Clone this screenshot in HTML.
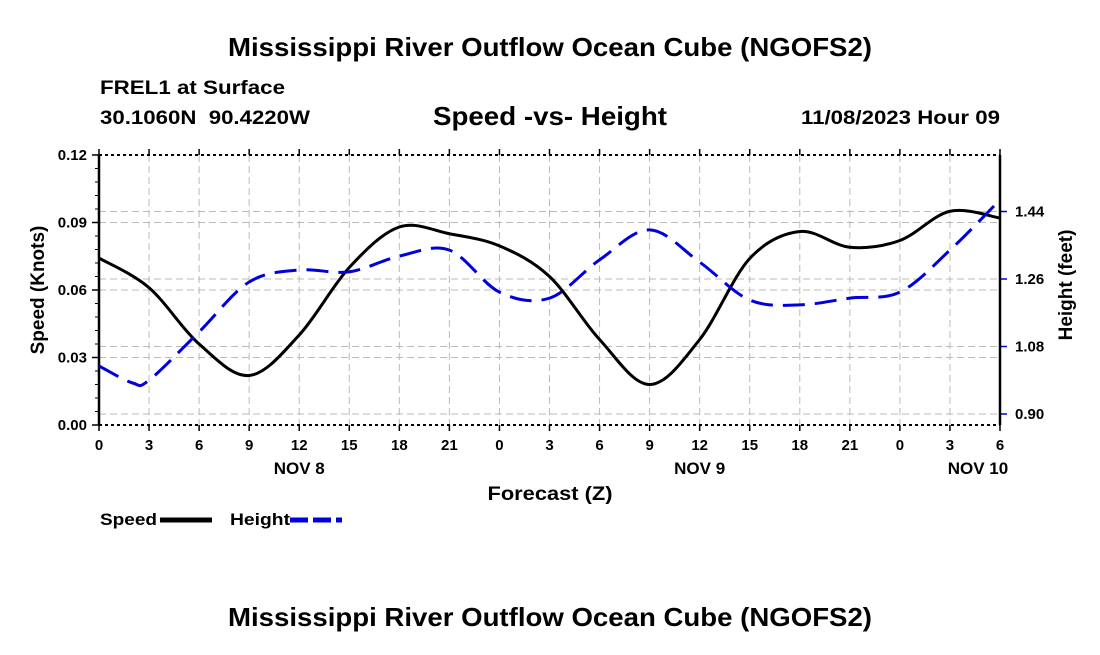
<!DOCTYPE html>
<html><head><meta charset="utf-8"><style>
body{margin:0;background:#fff;width:1100px;height:650px;overflow:hidden;font-family:"Liberation Sans",Arial,sans-serif}
svg text{font-family:"Liberation Sans",Arial,sans-serif;font-weight:bold;white-space:pre}
</style></head><body>
<svg id="chart" width="1100" height="650">
<text x="550" y="56" text-anchor="middle" font-size="26" textLength="644" lengthAdjust="spacingAndGlyphs">Mississippi River Outflow Ocean Cube (NGOFS2)</text>
<text x="100" y="94" font-size="19" textLength="185" lengthAdjust="spacingAndGlyphs">FREL1 at Surface</text>
<text x="100" y="124" font-size="19" textLength="210" lengthAdjust="spacingAndGlyphs">30.1060N  90.4220W</text>
<text x="550" y="125" text-anchor="middle" font-size="26" textLength="234" lengthAdjust="spacingAndGlyphs">Speed -vs- Height</text>
<text x="1000" y="124" text-anchor="end" font-size="19" textLength="199" lengthAdjust="spacingAndGlyphs">11/08/2023 Hour 09</text>
<g id="grid"></g><g id="axes"></g><g id="series"></g>
<text x="550" y="500" text-anchor="middle" font-size="19" textLength="125" lengthAdjust="spacingAndGlyphs">Forecast (Z)</text>
<text transform="translate(44,290) rotate(-90)" text-anchor="middle" font-size="19">Speed (Knots)</text>
<text transform="translate(1072,285) rotate(-90)" text-anchor="middle" font-size="19">Height (feet)</text>
<g><text x="100" y="525" font-size="17" textLength="57" lengthAdjust="spacingAndGlyphs">Speed</text><line x1="160" y1="520" x2="212" y2="520" stroke="#000" stroke-width="5"/></g>
<g><text x="230" y="525" font-size="17" textLength="60" lengthAdjust="spacingAndGlyphs">Height</text><line x1="290" y1="520" x2="342" y2="520" stroke="#0000dd" stroke-width="5" stroke-dasharray="18,5"/></g>
<text x="550" y="626" text-anchor="middle" font-size="26" textLength="644" lengthAdjust="spacingAndGlyphs">Mississippi River Outflow Ocean Cube (NGOFS2)</text>
</svg>
<script>
const hours=[0,3,6,9,12,15,18,21,24,27,30,33,36,39,42,45,48,51,54];
const speed=[0.0742,0.061,0.036,0.022,0.040,0.070,0.088,0.085,0.0796,0.066,0.038,0.018,0.038,0.074,0.086,0.079,0.082,0.095,0.092];
const heightHours=[0,2,3,6,9,12,15,18,21,24,27,30,33,36,39,42,45,48,51,54];
const heightVals=[1.028,0.983,0.99,1.119,1.252,1.284,1.279,1.321,1.337,1.225,1.209,1.311,1.391,1.305,1.204,1.191,1.209,1.225,1.337,1.471];
const xTickLabels=["0","3","6","9","12","15","18","21","0","3","6","9","12","15","18","21","0","3","6"];
const dayLabels=["NOV 8","NOV 9","NOV 10"];
const dayHours=[12,36,54];
const leftTicks=[0,0.03,0.06,0.09,0.12];
const rightTicks=[0.90,1.08,1.26,1.44];
const X0=99,X1=1000,Y0=425,Y1=155;
const xs=h=>X0+(X1-X0)*h/54;
const yl=v=>Y0-(Y0-Y1)*v/0.12;
const yr=v=>414-(v-0.9)/0.18*67.5;
const NS="http://www.w3.org/2000/svg";
function mk(t,a,p){const e=document.createElementNS(NS,t);for(const k in a)e.setAttribute(k,a[k]);p.appendChild(e);return e;}
const grid=document.getElementById('grid'),axes=document.getElementById('axes'),ser=document.getElementById('series');
hours.forEach((h,i)=>{if(i>0&&i<hours.length-1){const l=mk('line',{x1:xs(h),x2:xs(h),y1:Y1,y2:Y0,stroke:'#bbb','stroke-dasharray':'7,4'},grid);

}
mk('line',{x1:xs(h),x2:xs(h),y1:Y0,y2:Y0+6,stroke:'#000','stroke-width':1.5},axes);
mk('line',{x1:xs(h),x2:xs(h),y1:Y1,y2:Y1-6,stroke:'#000','stroke-width':1.5},axes);
const tx=mk('text',{x:xs(h),y:Y0+25,'text-anchor':'middle','font-size':15},axes);tx.textContent=xTickLabels[i];

});
dayLabels.forEach((d,i)=>{const t=mk('text',{x:xs(dayHours[i])-(i==2?22:0),y:Y0+49,'text-anchor':'middle','font-size':17},axes);t.textContent=d;

});
leftTicks.forEach(v=>{if(v>0&&v<0.12){const l=mk('line',{x1:X0,x2:X1,y1:yl(v),y2:yl(v),stroke:'#bbb','stroke-dasharray':'7,4'},grid);

}
mk('line',{x1:X0-7,x2:X0,y1:yl(v),y2:yl(v),stroke:'#000','stroke-width':1.5},axes);
const t=mk('text',{x:X0-12,y:yl(v)+5,'text-anchor':'end','font-size':15},axes);t.textContent=v.toFixed(2);

});
for(let v=0.006;v<0.12;v+=0.006){mk('line',{x1:X0-4,x2:X0,y1:yl(v),y2:yl(v),stroke:'#000'},axes);}
rightTicks.forEach(v=>{const l=mk('line',{x1:X0,x2:X1,y1:yr(v),y2:yr(v),stroke:'#bbb','stroke-dasharray':'7,4'},grid);


mk('line',{x1:X1,x2:X1+7,y1:yr(v),y2:yr(v),stroke:'#0000cc','stroke-width':1.5},axes);
const t=mk('text',{x:X1+15,y:yr(v)+5,'font-size':15},axes);t.textContent=v.toFixed(2);

});
mk('line',{x1:X0,x2:X0,y1:Y1,y2:Y0,stroke:'#000','stroke-width':2.5},axes);
mk('line',{x1:X1,x2:X1,y1:Y1,y2:Y0,stroke:'#000','stroke-width':2.5},axes);
mk('line',{x1:X0,x2:X1,y1:Y1,y2:Y1,stroke:'#000','stroke-width':2,'stroke-dasharray':'3,3'},axes);
mk('line',{x1:X0,x2:X1,y1:Y0,y2:Y0,stroke:'#000','stroke-width':2,'stroke-dasharray':'3,3'},axes);
function smooth(p){let d=`M${p[0][0]},${p[0][1]}`;for(let i=0;i<p.length-1;i++){const a=p[i-1]||p[i],b=p[i],c=p[i+1],e=p[i+2]||c;
d+=` C${b[0]+(c[0]-a[0])/6},${b[1]+(c[1]-a[1])/6} ${c[0]-(e[0]-b[0])/6},${c[1]-(e[1]-b[1])/6} ${c[0]},${c[1]}`;}return d;}
const sp=mk('path',{d:smooth(hours.map((h,i)=>[xs(h),yl(speed[i])])),fill:'none',stroke:'#000','stroke-width':3},ser);


const hp=mk('path',{d:smooth(heightHours.map((h,i)=>[xs(h),yr(heightVals[i])])),fill:'none',stroke:'#0000dd','stroke-width':3,'stroke-dasharray':'22,10'},ser);


</script>
</body></html>
